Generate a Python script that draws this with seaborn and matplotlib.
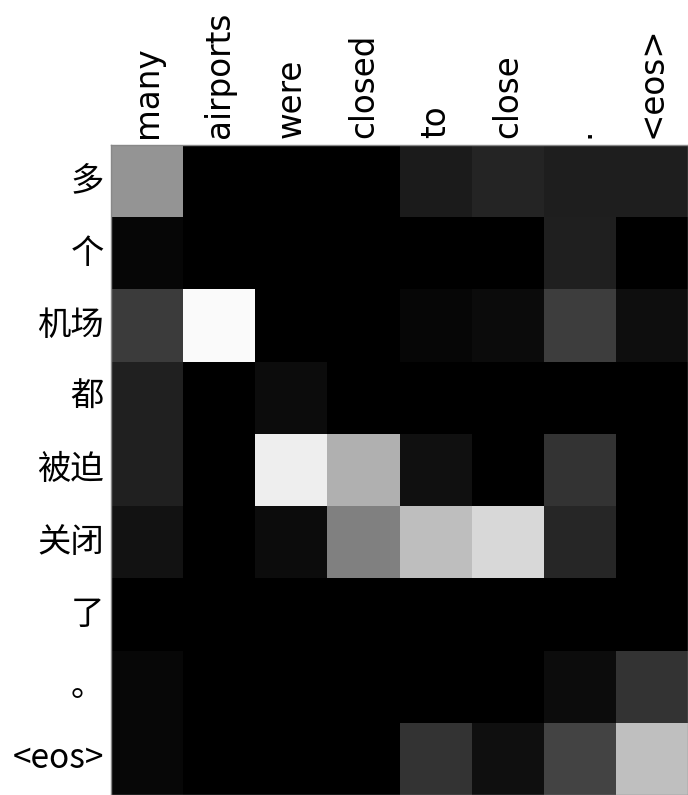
import numpy as np
import pandas as pd
import matplotlib
matplotlib.use("Agg")
import matplotlib.pyplot as plt
import seaborn as sns

src_tokens = ["many", "airports", "were", "closed", "to", "close", ".", "<eos>"]
tgt_tokens = ["多", "个", "机场", "都", "被迫", "关闭", "了", "。", "<eos>"]

row_duo    = [0.58, 0.00, 0.00, 0.00, 0.106, 0.141, 0.118, 0.118]
row_ge     = [0.024, 0.00, 0.00, 0.00, 0.00, 0.00, 0.122, 0.00]
row_jichang = [0.231, 0.98, 0.00, 0.00, 0.024, 0.043, 0.239, 0.055]
row_dou    = [0.125, 0.00, 0.047, 0.00, 0.00, 0.00, 0.00, 0.00]
row_beipo  = [0.125, 0.00, 0.933, 0.69, 0.063, 0.00, 0.20, 0.00]
row_guanbi = [0.071, 0.00, 0.047, 0.502, 0.745, 0.847, 0.149, 0.00]
row_le     = [0.00, 0.00, 0.00, 0.00, 0.00, 0.00, 0.00, 0.00]
row_ju     = [0.031, 0.00, 0.00, 0.00, 0.00, 0.00, 0.047, 0.20]
row_eos    = [0.031, 0.00, 0.00, 0.00, 0.20, 0.059, 0.263, 0.749]

data = pd.DataFrame(
    [row_duo, row_ge, row_jichang, row_dou, row_beipo, row_guanbi, row_le, row_ju, row_eos],
    index=tgt_tokens, columns=src_tokens,
)

fig = plt.figure(figsize=(6.88, 7.95), dpi=100)
ax = fig.add_axes([111 / 688, 0.0, 577 / 688, 650 / 795])
sns.heatmap(data, ax=ax, cmap="gray", vmin=0, vmax=1, cbar=False,
            xticklabels=True, yticklabels=True)

ax.xaxis.tick_top()
ax.set_xticklabels(src_tokens, rotation=90)
ax.set_yticklabels(tgt_tokens, rotation=0)
for t in ax.get_xticklabels():
    t.set_fontfamily(["DejaVu Sans"])
    t.set_fontsize(23.5)
    t.set_color("black")
for t in ax.get_yticklabels():
    t.set_fontfamily(["Noto Sans CJK SC", "DejaVu Sans"])
    t.set_fontsize(24)
    t.set_color("black")
ax.tick_params(axis="both", length=0, pad=5)
ax.set_xlabel("")
ax.set_ylabel("")
for s in ax.spines.values():
    s.set_visible(True)
    s.set_color("#888888")
    s.set_linewidth(1.0)

fig.savefig("out.png", dpi=100)
